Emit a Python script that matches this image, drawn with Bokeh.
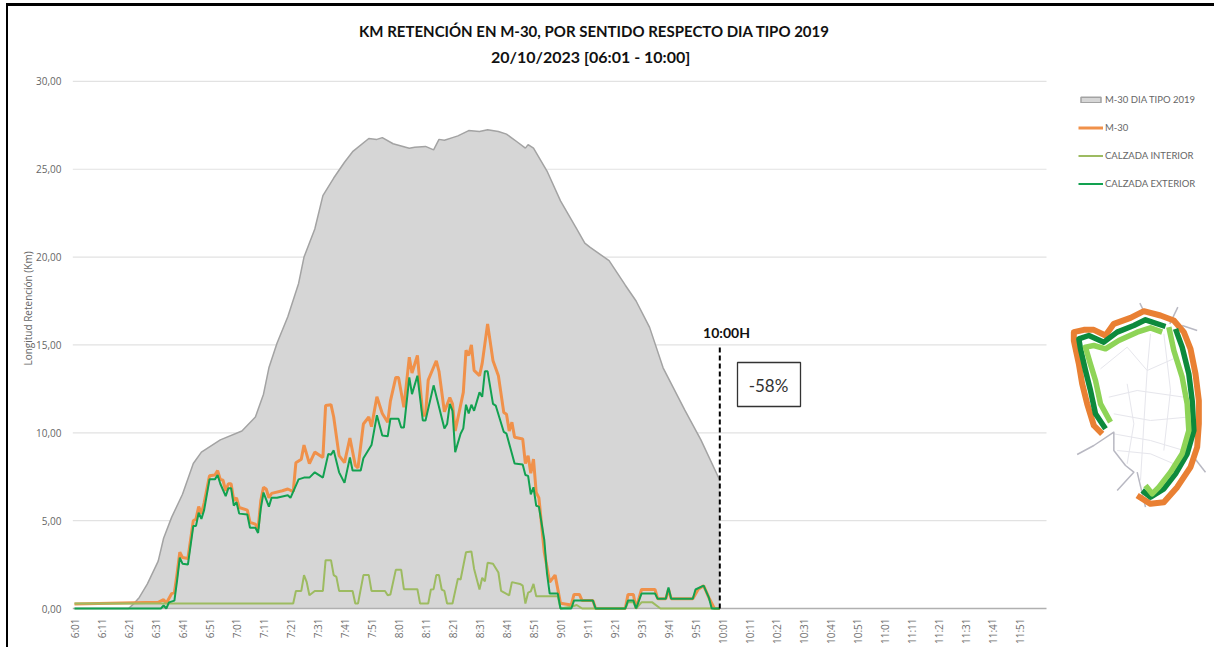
from bokeh.plotting import figure
from bokeh.models import (Range1d, FixedTicker, Legend, LegendItem)
from bokeh.core.properties import value
from bokeh.embed import file_html
from bokeh.resources import INLINE

# minutes after 6:01
tick_minutes = list(range(0, 351, 10))
tick_labels = [f"{6 + (m + 1) // 60}:{(m + 1) % 60:02d}" for m in tick_minutes]
y_ticks = [0, 5, 10, 15, 20, 25, 30]
y_labels = ["0,00", "5,00", "10,00", "15,00", "20,00", "25,00", "30,00"]

tipo_min = [0, 20, 22, 24, 27, 31, 33, 36, 40, 44,
            47, 52, 54, 62, 67, 70, 72, 75, 79, 83,
            85, 89, 92, 96, 100, 103, 109, 112, 114, 118,
            124, 126, 130, 133, 135, 137, 140, 142, 146, 150,
            153, 157, 160, 164, 167, 168, 170, 175, 180, 183,
            186, 189, 191, 198, 204, 208, 213, 218, 226, 232, 239]
tipo_km = [0, 0, .28, .63, 1.4, 2.7, 4.0, 5.2, 6.5, 8.25,
           8.9, 9.4, 9.6, 10.1, 10.9, 12.2, 13.7, 15.1, 16.6, 18.5,
           20.0, 21.6, 23.5, 24.5, 25.4, 26.0, 26.75, 26.7, 26.8, 26.45,
           26.2, 26.25, 26.3, 26.1, 26.7, 26.65, 26.8, 26.9, 27.2, 27.15,
           27.25, 27.15, 27.0, 26.55, 26.2, 26.4, 26.2, 24.9, 23.2, 22.4,
           21.6, 20.8, 20.55, 19.8, 18.4, 17.5, 16.0, 13.7, 11.3, 9.6, 7.3]

m30_min = [0, 31, 33, 34, 36, 37, 38, 39, 40, 42,
           44, 45, 46, 47, 48, 50, 52, 53, 54, 55,
           56, 57, 58, 59, 60, 61, 64, 65, 67, 68,
           69, 70, 71, 72, 73, 77, 79, 81, 82, 84,
           85, 87, 89, 92, 93, 95, 96, 98, 100, 102,
           104, 105, 107, 109, 110, 112, 114, 116, 117, 119,
           120, 122, 124, 125, 127, 129, 130, 131, 134, 135,
           137, 139, 140, 141, 144, 145, 146, 147, 148, 150,
           151, 153, 155, 157, 159, 160, 161, 162, 163, 166,
           167, 168, 169, 170, 171, 172, 174, 176, 178, 180,
           184, 185, 187, 188, 192, 193, 204, 205, 207, 208,
           210, 215, 216, 219, 220, 221, 229, 231, 233, 235, 237, 239]
m30_km = [.25, .35, .5, .3, .85, .9, 2.0, 3.2, 2.9, 2.85,
          5.0, 5.1, 5.8, 5.4, 6.0, 7.55, 7.6, 7.85, 7.35, 7.3,
          6.7, 7.1, 7.1, 6.15, 6.3, 5.75, 5.6, 4.9, 4.8, 4.55,
          6.15, 6.9, 6.8, 6.3, 6.55, 6.7, 6.8, 6.65, 8.3, 8.5,
          9.3, 8.25, 8.9, 8.6, 11.55, 11.6, 10.9, 8.7, 8.3, 9.7,
          8.15, 8.0, 10.5, 10.9, 10.35, 12.05, 11.1, 10.6, 11.8, 13.15,
          13.15, 11.45, 14.3, 13.4, 14.4, 11.0, 11.0, 13.0, 14.1, 13.5,
          11.2, 12.0, 11.65, 10.1, 12.3, 14.7, 14.4, 15.0, 13.55, 13.25,
          13.95, 16.2, 14.1, 13.25, 11.15, 11.05, 10.1, 10.6, 9.75, 9.65,
          8.25, 8.7, 7.7, 8.5, 6.6, 6.3, 3.2, 1.5, 1.9, .3,
          .2, .8, .8, .45, .45, 0, 0, .8, .8, 0,
          1.08, 1.08, .55, .55, 1.1, .55, .55, 1.1, 1.3, .6, 0, 0]

ext_min = [0, 32, 33, 34, 35, 37, 38, 39, 40, 42,
           44, 45, 46, 47, 48, 50, 52, 53, 54, 56,
           57, 58, 59, 60, 61, 64, 65, 67, 68, 69,
           70, 72, 73, 75, 79, 80, 83, 85, 87, 89,
           92, 94, 95, 96, 98, 100, 102, 103, 106, 107,
           110, 112, 114, 116, 117, 120, 121, 122, 124, 125,
           127, 129, 130, 133, 137, 138, 139, 140, 141, 143,
           144, 145, 146, 147, 148, 150, 151, 152, 153, 155,
           156, 159, 160, 163, 166, 167, 168, 169, 170, 171,
           172, 174, 175, 176, 179, 180, 184, 185, 192, 193,
           204, 205, 207, 208, 210, 215, 216, 219, 220, 221,
           229, 230, 233, 235, 236, 239]
ext_km = [0, 0, .17, 0, .35, .45, 1.6, 2.9, 2.55, 2.5,
          4.7, 4.7, 5.45, 5.1, 5.6, 7.35, 7.35, 7.6, 7.1, 6.4,
          6.85, 6.85, 5.85, 6.05, 5.4, 5.35, 4.6, 4.6, 4.3, 5.7,
          6.6, 5.8, 6.3, 6.3, 6.45, 6.3, 7.35, 7.45, 7.45, 7.75,
          7.45, 8.8, 8.75, 9.0, 7.75, 7.15, 8.6, 7.85, 7.85, 8.55,
          9.3, 11.0, 9.85, 9.8, 10.8, 10.8, 10.3, 10.3, 13.15, 12.2,
          13.25, 10.7, 10.7, 12.7, 10.25, 10.5, 11.65, 11.25, 8.9, 9.95,
          10.25, 11.6, 11.1, 11.6, 11.25, 12.3, 12.05, 13.5, 13.5, 11.65,
          11.55, 10.05, 9.95, 8.25, 8.2, 7.6, 7.55, 6.5, 6.9, 5.85,
          5.8, 3.9, 2.0, .85, .85, 0, 0, .45, .45, 0,
          0, .45, .45, 0, .85, .85, .55, .55, 1.2, .55,
          .55, 1.08, 1.3, .6, 0, 0]

int_min = [0, 81, 82, 84, 85, 86, 87, 89, 92, 93,
           95, 96, 97, 98, 103, 104, 105, 107, 109, 110,
           115, 116, 117, 119, 121, 122, 127, 128, 131, 132,
           133, 134, 135, 136, 137, 138, 140, 142, 143, 145,
           147, 148, 150, 151, 152, 153, 155, 157, 158, 161,
           162, 165, 166, 167, 168, 169, 170, 171, 179, 180,
           184, 186, 188, 204, 205, 207, 208, 210, 214, 217, 239]
int_km = [.28, .28, 1.0, 1.0, 1.9, 1.5, .75, 1.0, 1.0, 2.75,
          2.75, 1.9, 1.8, 1.0, 1.0, .28, .28, 1.9, 1.9, 1.0,
          1.0, .75, .8, 2.2, 2.2, 1.1, 1.1, .28, .28, 1.08,
          1.1, 1.9, 1.9, 1.08, 1.0, .28, .28, 1.7, 1.65, 3.2,
          3.25, 2.25, 1.08, 1.75, 1.55, 2.6, 2.55, 2.05, 1.0, .75,
          1.5, 1.4, 1.3, .28, .9, .97, 1.4, .7, .7, 0,
          .1, .2, 0, 0, .35, .35, 0, .35, .35, 0, 0]

# schematic ring map, page pixels
def mp(points):
    return [1050 + a / 3 for a, b in points], [290 + b / 3 for a, b in points]

map_orange = [[(155, 430), (130, 405), (110, 340), (95, 280), (85, 220), (70, 150), (70, 125), (100, 118), (130, 118),
               (165, 135), (190, 100), (240, 82), (280, 62), (330, 75), (370, 90), (400, 125), (420, 175), (435, 250),
               (445, 330), (445, 400), (440, 470), (420, 530), (380, 590), (340, 635), (300, 640), (260, 615)]]
map_dark = [[(165, 415), (135, 370), (120, 300), (105, 240), (90, 175), (85, 145), (115, 135), (160, 155), (200, 125),
             (250, 105), (285, 88), (345, 108)],
            [(375, 115), (395, 170), (415, 250), (425, 330), (430, 420), (410, 490), (375, 550), (340, 595), (300, 620),
             (275, 600)]]
map_light = [[(180, 395), (150, 340), (135, 270), (118, 215), (105, 170), (130, 165), (165, 175), (205, 150), (260, 125),
              (300, 112), (335, 125)],
             [(355, 110), (370, 180), (395, 260), (410, 340), (415, 420), (395, 490), (360, 545), (325, 590), (305, 610),
              (285, 585)]]
map_spokes = [[(268, 38), (280, 62)], [(382, 50), (358, 100)], [(395, 105), (440, 120)], [(430, 500), (465, 545)],
              [(80, 492), (130, 465), (190, 425), (190, 480), (225, 525), (250, 545), (200, 600)],
              [(260, 545), (285, 650)]]
map_streets = [[(300, 130), (290, 240), (280, 400), (270, 570)], [(340, 130), (360, 300), (340, 480)],
               [(150, 235), (230, 170), (290, 240), (380, 200)], [(175, 320), (260, 300), (400, 320)],
               [(190, 370), (300, 390), (410, 380)], [(190, 430), (300, 450), (400, 480)],
               [(230, 280), (250, 400), (230, 520)], [(200, 480), (300, 490), (370, 520)]]

# page geometry: the figure starts at (8, 6), just inside the black border
W, H = 1214, 647
ORG_X, ORG_Y = 8, 6
LEFT, BOTTOM = 72, 610
PX = 2.70
KM = 17.57

p = figure(width=W - ORG_X, height=H - ORG_Y, output_backend="svg", toolbar_location=None,
           margin=(ORG_Y, 0, 0, ORG_X),
           styles={"box-shadow": "-2px 0 0 0 #000, 0 -3px 0 0 #000, -2px -3px 0 0 #000"},
           x_range=Range1d((LEFT - 74) / PX, (W - 74) / PX),
           y_range=Range1d((608 - BOTTOM) / KM, (608 - ORG_Y) / KM),
           min_border_left=LEFT - ORG_X, min_border_right=0, min_border_top=0, min_border_bottom=H - BOTTOM,
           background_fill_color="white", border_fill_color="white", outline_line_color=None)
p.extra_x_ranges["px"] = Range1d(LEFT, W)
p.extra_y_ranges["px"] = Range1d(BOTTOM, ORG_Y)

p.grid.visible = False
ax = p.xaxis[0]
ax.ticker = FixedTicker(ticks=tick_minutes)
ax.major_label_overrides = dict(zip(tick_minutes, tick_labels))
ax.major_label_orientation = 1.5708
ax.major_label_text_font = "Open Sans"
ax.major_label_text_font_size = "10px"
ax.major_label_text_color = "#707070"
ax.major_label_standoff = 8
ax.major_tick_out = 0
ax.major_tick_in = 0
ax.minor_tick_out = 0
ax.minor_tick_in = 0
ax.axis_line_color = None
ax.major_tick_line_color = None
ax.minor_tick_line_color = None

ay = p.yaxis[0]
ay.ticker = FixedTicker(ticks=y_ticks)
ay.major_label_overrides = dict(zip(y_ticks, y_labels))
ay.major_label_text_font = "Open Sans"
ay.major_label_text_font_size = "10px"
ay.major_label_text_color = "#666666"
ay.major_label_standoff = 11
ay.major_tick_out = 0
ay.major_tick_in = 0
ay.minor_tick_out = 0
ay.minor_tick_in = 0
ay.axis_line_color = None
ay.major_tick_line_color = None
ay.minor_tick_line_color = None
ay.axis_label = "Longitud Retención (Km)"
ay.axis_label_text_font = "Open Sans"
ay.axis_label_text_font_size = "10px"
ay.axis_label_text_font_style = "normal"
ay.axis_label_text_color = "#666666"
ay.axis_label_text_align = "right"
ay.axis_label_standoff = -2

# gridlines stop short of the right of the picture
grid_end = (1046 - 74) / PX
p.segment(x0=[tick_minutes[0] - 0.7] * 6, x1=[grid_end] * 6, y0=y_ticks[1:], y1=y_ticks[1:],
          line_color="#e2e2e2", line_width=1.2)

area = p.varea(x=tipo_min, y1=[0] * len(tipo_min), y2=tipo_km, fill_color="#d6d6d6")
p.segment(x0=[-0.7], x1=[grid_end], y0=[0], y1=[0], line_color="#b0b0b0", line_width=1.3)
tipo = p.line(tipo_min, tipo_km, line_color="#a3a3a3", line_width=1.5)
r_m30 = p.line(m30_min, m30_km, line_color="#f0914a", line_width=3)
r_int = p.line(int_min, int_km, line_color="#9dbb61", line_width=2)
r_ext = p.line(ext_min, ext_km, line_color="#12a150", line_width=2)
# zero-sized quad: only its legend swatch shows
swatch = p.quad(left=[0], right=[0], top=[0], bottom=[0], fill_color="#d6d6d6", line_color="#a3a3a3", line_width=1.5)

p.segment(x0=[239], x1=[239], y0=[0], y1=[15], line_color="black", line_width=2, line_dash="5 3")

LATO = value("Lato")
p.text(x=[594], y=[30], text=["KM RETENCIÓN EN M-30, POR SENTIDO RESPECTO DIA TIPO 2019"], x_range_name="px", y_range_name="px",
       text_font=LATO, text_font_style="bold", text_font_size="15px", text_align="center", text_baseline="middle",
       text_color="#111111")
p.text(x=[594], y=[56], text=["20/10/2023   [06:01 - 10:00]"], x_range_name="px", y_range_name="px",
       text_font=LATO, text_font_style="bold", text_font_size="16px", text_align="center", text_baseline="middle",
       text_color="#111111")
p.text(x=[726], y=[332], text=["10:00H"], x_range_name="px", y_range_name="px", text_font=LATO,
       text_font_style="bold", text_font_size="14px", text_align="center", text_baseline="middle", text_color="#111111")
p.quad(left=[737], right=[800], top=[362], bottom=[406], x_range_name="px", y_range_name="px",
       fill_color="white", line_color="#333333", line_width=1.3)
p.text(x=[768], y=[385], text=["-58%"], x_range_name="px", y_range_name="px", text_font=LATO,
       text_font_size="17px", text_align="center", text_baseline="middle", text_color="#333333")

def draw_map(paths, color, width):
    pts = [mp(q) for q in paths]
    p.multi_line(xs=[a for a, b in pts], ys=[b for a, b in pts], x_range_name="px", y_range_name="px",
                 line_color=color, line_width=width, line_join="round", line_cap="butt")

draw_map(map_streets, "#e6e6ec", 1)
draw_map(map_spokes, "#b8b8c2", 1.5)
draw_map(map_orange, "#e98033", 6)
draw_map(map_dark, "#0d8a3c", 5.5)
draw_map(map_light, "#8ed457", 5.5)

legend = Legend(items=[LegendItem(label="M-30 DIA TIPO 2019", renderers=[swatch]),
                       LegendItem(label="M-30", renderers=[r_m30]),
                       LegendItem(label="CALZADA INTERIOR", renderers=[r_int]),
                       LegendItem(label="CALZADA EXTERIOR", renderers=[r_ext])],
                location=(1006, 420), orientation="vertical", background_fill_alpha=0, border_line_color=None,
                padding=0, margin=0, spacing=14, glyph_width=25, glyph_height=7, label_height=14, label_standoff=2,
                label_text_font="Lato", label_text_font_size="9.5px", label_text_color="#666666")
p.add_layout(legend, "center")

open("out.html", "w").write(file_html(p, INLINE))
